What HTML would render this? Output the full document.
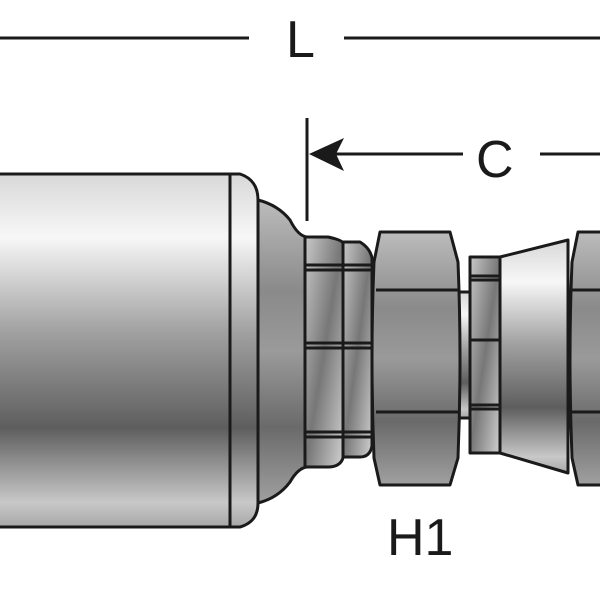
<!DOCTYPE html>
<html><head><style>html,body{margin:0;padding:0;background:#fff;}svg{display:block}</style></head>
<body>
<svg width="600" height="600" viewBox="0 0 600 600" xmlns="http://www.w3.org/2000/svg">
<defs>
<linearGradient id="g" x1="0" y1="0" x2="0" y2="1">
<stop offset="0" stop-color="#d8d8d8"/>
<stop offset="0.18" stop-color="#f7f7f7"/>
<stop offset="0.45" stop-color="#a0a0a0"/>
<stop offset="0.72" stop-color="#5e5e5e"/>
<stop offset="0.93" stop-color="#c8c8c8"/>
<stop offset="1" stop-color="#a8a8a8"/>
</linearGradient>
<linearGradient id="g2" x1="0" y1="0" x2="0" y2="1">
<stop offset="0" stop-color="#bcbcbc"/>
<stop offset="0.3" stop-color="#8a8a8a"/>
<stop offset="0.5" stop-color="#9a9a9a"/>
<stop offset="0.75" stop-color="#6a6a6a"/>
<stop offset="1" stop-color="#a0a0a0"/>
</linearGradient>
<linearGradient id="g3" x1="0" y1="0" x2="1" y2="1">
<stop offset="0" stop-color="#c8c8c8"/>
<stop offset="0.5" stop-color="#777"/>
<stop offset="1" stop-color="#d0d0d0"/>
</linearGradient>
</defs>
<g stroke="#1a1a1a" stroke-width="3" stroke-linejoin="round">
<line x1="0" y1="38" x2="249" y2="38"/>
<line x1="344" y1="38" x2="600" y2="38"/>
<line x1="307" y1="118" x2="307" y2="221"/>
<line x1="330" y1="154" x2="463" y2="154"/>
<line x1="540" y1="154" x2="600" y2="154"/>
</g>
<path d="M309 154 L344 138 L336 154 L344 171 Z" fill="#1a1a1a"/>
<g font-family="Liberation Sans, sans-serif" fill="#1a1a1a" font-size="52">
<text x="286" y="57">L</text>
<text x="476" y="177">C</text>
<text x="387" y="555">H1</text>
</g>
<g stroke="#1a1a1a" stroke-width="3" stroke-linejoin="round">
<rect x="-5" y="174" width="235" height="353" fill="url(#g)"/>
<path d="M230 174 L240 174 Q258 180 258 200 L258 503 Q258 522 240 527 L230 527 Z" fill="url(#g)"/>
<path d="M258 200 Q278 205 290 220 Q298 236 307 237 L307 467 Q298 468 290 482 Q278 498 258 503 Z" fill="url(#g2)"/>
<path d="M305 237 L328 237 Q342 240 343 243 L343 458 Q340 467 328 467 L305 467 Z" fill="url(#g3)"/>
<path d="M343 242 L360 242 Q370 248 372 258 L372 446 Q370 457 360 457 L343 457 Z" fill="url(#g3)"/>
<line x1="305" y1="265" x2="372" y2="265"/>
<line x1="305" y1="270" x2="372" y2="270"/>
<line x1="305" y1="343" x2="372" y2="343"/>
<line x1="305" y1="348" x2="372" y2="348"/>
<line x1="305" y1="432" x2="372" y2="432"/>
<line x1="305" y1="437" x2="372" y2="437"/>
<rect x="458" y="292" width="14" height="126" fill="url(#g)"/>
<path d="M380 232 L450 232 L458 262 Q462 358 458 458 L450 485 L380 485 L374 458 Q370 358 374 262 Z" fill="url(#g2)"/>
<line x1="376" y1="290" x2="460" y2="290"/>
<line x1="376" y1="412" x2="460" y2="412"/>
<rect x="470" y="257" width="30" height="196" fill="url(#g3)"/>
<line x1="470" y1="276" x2="500" y2="276"/>
<line x1="470" y1="280" x2="500" y2="280"/>
<line x1="470" y1="340" x2="500" y2="340"/>
<line x1="470" y1="405" x2="500" y2="405"/>
<line x1="470" y1="409" x2="500" y2="409"/>
<path d="M500 257 L568 240 L568 473 L500 453 Z" fill="url(#g)"/>
<path d="M578 232 L610 232 L610 485 L578 485 L572 458 Q568 358 572 262 Z" fill="url(#g2)"/>
<line x1="570" y1="290" x2="600" y2="290"/>
<line x1="570" y1="412" x2="600" y2="412"/>
</g>
</svg>
</body></html>
